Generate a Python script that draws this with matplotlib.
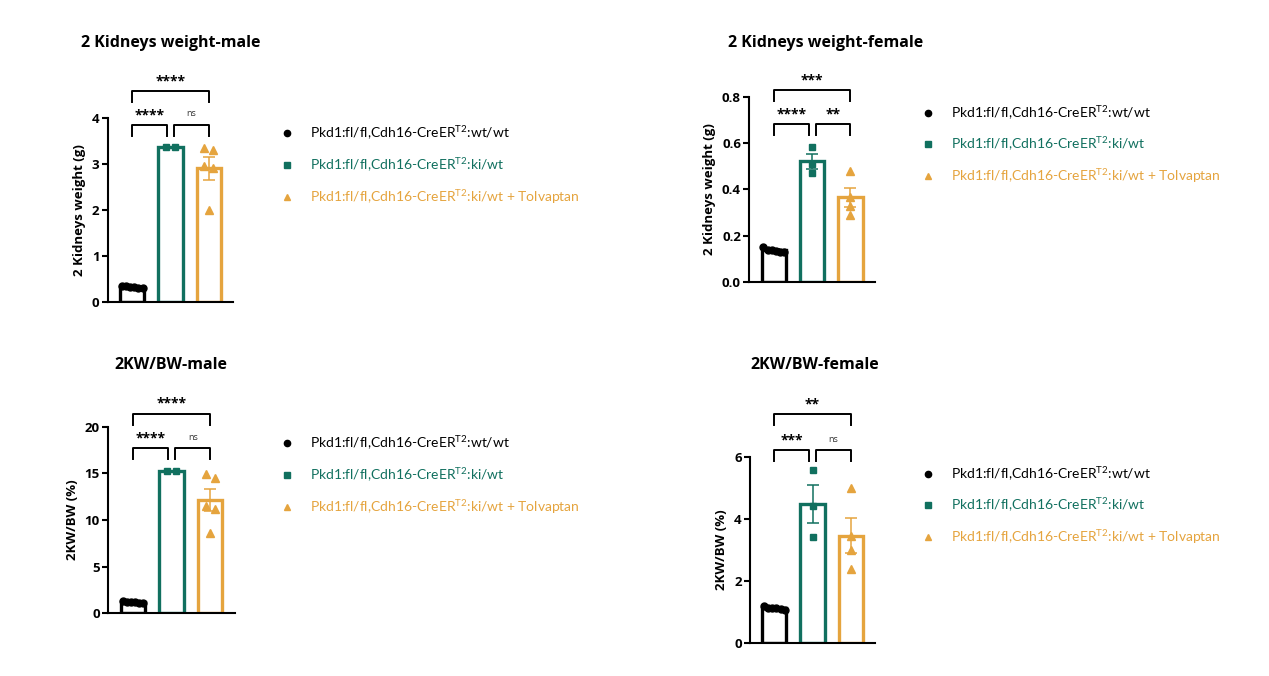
import numpy as np
import matplotlib
matplotlib.use("Agg")
import matplotlib.pyplot as plt
from matplotlib.lines import Line2D

plt.rcParams['font.family'] = ['Open Sans', 'DejaVu Sans']
plt.rcParams['mathtext.fontset'] = 'custom'
plt.rcParams['mathtext.rm'] = 'Lato'

# data
groups = ['Pkd1:fl/fl,Cdh16-CreER$^{\\mathrm{T2}}$:wt/wt',
          'Pkd1:fl/fl,Cdh16-CreER$^{\\mathrm{T2}}$:ki/wt',
          'Pkd1:fl/fl,Cdh16-CreER$^{\\mathrm{T2}}$:ki/wt + Tolvaptan']
colors = ['#000000', '#11705F', '#E5A43E']
markers = ['o', 's', '^']

kw_male_wt = [0.32, 0.35, 0.33, 0.34, 0.31, 0.36]
kw_male_ki = [3.36, 3.37]
kw_male_tol = [3.34, 3.30, 2.95, 2.92, 2.0]

kw_female_wt = [0.13, 0.14, 0.13, 0.135, 0.14, 0.15]
kw_female_ki = [0.584, 0.509, 0.472]
kw_female_tol = [0.48, 0.368, 0.328, 0.289]

ratio_male_wt = [1.10, 1.30, 1.20, 1.25, 1.15, 1.20]
ratio_male_ki = [15.25, 15.30]
ratio_male_tol = [14.9, 14.5, 11.5, 11.2, 8.6]

ratio_female_wt = [1.15, 1.20, 1.10, 1.12, 1.08, 1.13]
ratio_female_ki = [5.57, 4.43, 3.43]
ratio_female_tol = [5.0, 3.45, 3.0, 2.4]

# significance: (left group, right group, label)
sig_kw_male = [(0, 1, '****'), (1, 2, 'ns'), (0, 2, '****')]
sig_kw_female = [(0, 1, '****'), (1, 2, '**'), (0, 2, '***')]
sig_ratio_male = [(0, 1, '****'), (1, 2, 'ns'), (0, 2, '****')]
sig_ratio_female = [(0, 1, '***'), (1, 2, 'ns'), (0, 2, '**')]

W, H = 1269, 676
fig = plt.figure(figsize=(W / 100, H / 100), dpi=100)


def px_rect(l, t, r, b):
    return [l / W, 1 - b / H, (r - l) / W, (b - t) / H]


def swarm(vals, thr):
    # simple beeswarm: spread values that sit close together
    order = np.argsort(vals)[::-1]
    offs = np.zeros(len(vals))
    clusters = []
    for i in order:
        if clusters and vals[clusters[-1][-1]] - vals[i] < thr:
            clusters[-1].append(i)
        else:
            clusters.append([i])
    for c in clusters:
        n = len(c)
        if n > 1:
            spread = min(0.27, 0.12 * (n - 1))
            for k, i in enumerate(c):
                offs[i] = -spread + 2 * spread * k / (n - 1)
    return offs


def panel(rect, data, ymax, yticks, fmt, ylabel, sigs, lower, upper):
    ax = fig.add_axes(px_rect(*rect))
    for i, vals in enumerate(data):
        vals = np.array(vals)
        m = vals.mean()
        sem = vals.std(ddof=1) / np.sqrt(len(vals))
        ax.bar(i, m, width=0.63, facecolor='white', edgecolor=colors[i],
               linewidth=2.4, zorder=2)
        ax.errorbar(i, m, yerr=sem, color=colors[i], capsize=4,
                    elinewidth=1.1, capthick=1.1, zorder=3)
        offs = swarm(vals, ymax * 0.035)
        ms = {'o': 5, 's': 5, '^': 6}[markers[i]]
        ax.plot(i + offs, vals, linestyle='none', marker=markers[i],
                color=colors[i], markersize=ms, zorder=4, clip_on=False)
    ax.set_xlim(-0.64, 2.64)
    ax.set_ylim(0, ymax)
    ax.set_yticks(yticks)
    ax.set_yticklabels([fmt.format(v) for v in yticks], fontweight='bold',
                       fontsize=9.5)
    ax.set_xticks([])
    for s in ['top', 'right']:
        ax.spines[s].set_visible(False)
    for s in ['left', 'bottom']:
        ax.spines[s].set_linewidth(1.5)
    ax.tick_params(axis='y', length=4, width=1.5, pad=2)
    ax.set_ylabel(ylabel, fontweight='bold', fontsize=9.5, labelpad=4)

    drop = ymax * 0.06
    for a, b, lab in sigs:
        y = upper if (a, b) == (0, 2) else lower
        x1 = a + (0.09 if (a, b) == (1, 2) else 0)
        x2 = b - (0.09 if (a, b) == (0, 1) else 0)
        ax.plot([x1, x1, x2, x2], [y - drop, y, y, y - drop], color='black',
                linewidth=1.4, clip_on=False, zorder=5)
        if lab == 'ns':
            ax.annotate(lab, ((x1 + x2) / 2, y), xytext=(0, 8),
                        textcoords='offset points', ha='center', va='center',
                        fontsize=6.5, color='#333333', annotation_clip=False)
        else:
            ax.annotate(lab, ((x1 + x2) / 2, y), xytext=(0, 7),
                        textcoords='offset points', ha='center', va='center',
                        fontsize=10, fontweight='bold', annotation_clip=False)
    return ax


def legend(xm, ys):
    for i, y in enumerate(ys):
        fig.add_artist(Line2D([xm / W], [1 - y / H], marker=markers[i],
                              color=colors[i], linestyle='none',
                              markersize=4.5, transform=fig.transFigure))
        fig.text((xm + 23) / W, 1 - y / H, groups[i], color=colors[i],
                 fontsize=10, family='Lato', va='center', ha='left')


def title(cx, y, txt):
    fig.text(cx / W, 1 - y / H, txt, ha='center', va='center',
             fontweight='bold', fontsize=11.5)


panel((107.7, 117.7, 233.3, 302.3), [kw_male_wt, kw_male_ki, kw_male_tol],
      4, [0, 1, 2, 3, 4], '{:.0f}', '2 Kidneys weight (g)',
      sig_kw_male, 3.84, 4.58)
panel((749.3, 96.7, 875, 282), [kw_female_wt, kw_female_ki, kw_female_tol],
      0.8, [0, 0.2, 0.4, 0.6, 0.8], '{:.1f}', '2 Kidneys weight (g)',
      sig_kw_female, 0.682, 0.829)
panel((108.3, 426.7, 235, 613.3), [ratio_male_wt, ratio_male_ki, ratio_male_tol],
      20, [0, 5, 10, 15, 20], '{:.0f}', '2KW/BW (%)',
      sig_ratio_male, 17.7, 21.4)
panel((750, 456.7, 875, 643.3), [ratio_female_wt, ratio_female_ki, ratio_female_tol],
      6, [0, 2, 4, 6], '{:.0f}', '2KW/BW (%)',
      sig_ratio_female, 6.21, 7.37)

title(171, 43, '2 Kidneys weight-male')
title(826, 43, '2 Kidneys weight-female')
title(171, 365, '2KW/BW-male')
title(815, 365, '2KW/BW-female')

legend(287, [133, 165, 197])
legend(928, [113, 144, 176])
legend(287, [443, 475, 507])
legend(928, [474, 505, 537])

fig.savefig('out.png', dpi=100, facecolor='white')
